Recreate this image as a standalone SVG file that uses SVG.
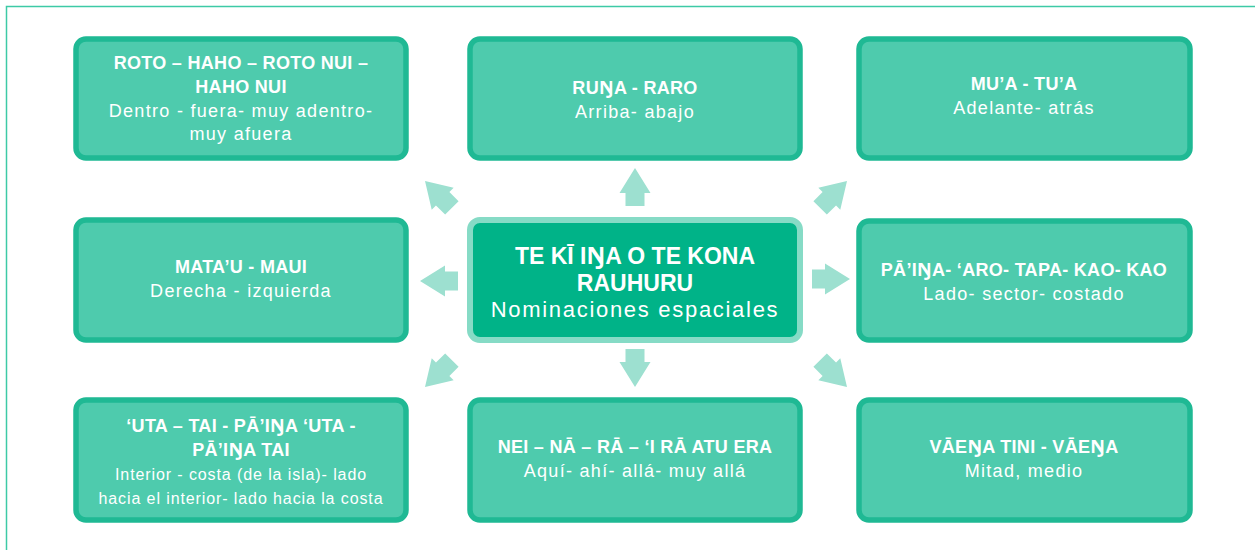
<svg xmlns="http://www.w3.org/2000/svg" width="1255" height="550" viewBox="0 0 1255 550">
  <style>
    .frame { fill: none; stroke: #3dcaa6; stroke-width: 1.5; }
    .box { fill: #4ecbad; stroke: #1fb994; stroke-width: 5.5; }
    .hub { fill: #00b388; stroke: #86dbc6; stroke-width: 6; }
    .arrow { fill: #9de0d0; }
    text { font-family: "Liberation Sans", Arial, sans-serif; fill: #ffffff; text-anchor: middle; }
    .eng { font-family: "Noto Sans", "DejaVu Sans", sans-serif; }
    .t { font-weight: bold; font-size: 18px; letter-spacing: 0.3px; }
    .d { font-size: 18px; letter-spacing: 1.3px; }
    .ds { font-size: 16px; letter-spacing: 0.9px; }
    .ht { font-weight: bold; font-size: 23px; }
    .hd { font-size: 22px; letter-spacing: 1.7px; }
  </style>
  <defs>
    <!-- block arrow pointing up, tip at the origin -->
    <polygon id="arr" class="arrow" points="0,0 15.5,25 9.5,25 9.5,38 -9.5,38 -9.5,25 -15.5,25"/>
  </defs>

  <path class="frame" d="M6.5,550 V6.5 H1255"/>

  <g id="connectors">
    <use href="#arr" transform="translate(635,168)"/>
    <use href="#arr" transform="translate(635,387) rotate(180)"/>
    <use href="#arr" transform="translate(420,281) rotate(-90)"/>
    <use href="#arr" transform="translate(850,279) rotate(90)"/>
    <use href="#arr" transform="translate(425,181) rotate(-45)"/>
    <use href="#arr" transform="translate(847,181) rotate(45)"/>
    <use href="#arr" transform="translate(425,387) rotate(-135)"/>
    <use href="#arr" transform="translate(847,387) rotate(135)"/>
  </g>

  <g id="hub">
    <rect class="hub" x="470" y="220" width="330" height="120" rx="10"/>
    <text class="ht" x="635" y="264">TE KĪ I<tspan class="eng">Ŋ</tspan>A O TE KONA</text>
    <text class="ht" x="635" y="291">RAUHURU</text>
    <text class="hd" x="635" y="317">Nominaciones espaciales</text>
  </g>

  <g id="roto-haho">
    <rect class="box" x="76" y="39" width="330" height="119" rx="10"/>
    <text class="t" x="241" y="69">ROTO – HAHO – ROTO NUI –</text>
    <text class="t" x="241" y="93">HAHO NUI</text>
    <text class="d" x="241" y="117">Dentro - fuera- muy adentro-</text>
    <text class="d" x="241" y="140">muy afuera</text>
  </g>

  <g id="runa-raro">
    <rect class="box" x="470" y="39" width="330" height="119" rx="10"/>
    <text class="t" x="635" y="94">RU<tspan class="eng">Ŋ</tspan>A - RARO</text>
    <text class="d" x="635" y="118">Arriba- abajo</text>
  </g>

  <g id="mua-tua">
    <rect class="box" x="859" y="39" width="331" height="119" rx="10"/>
    <text class="t" x="1024" y="90">MU’A - TU’A</text>
    <text class="d" x="1024" y="114">Adelante- atrás</text>
  </g>

  <g id="matau-maui">
    <rect class="box" x="76" y="220" width="330" height="120" rx="10"/>
    <text class="t" x="241" y="273">MATA’U - MAUI</text>
    <text class="d" x="241" y="297">Derecha - izquierda</text>
  </g>

  <g id="paina-aro">
    <rect class="box" x="859" y="221" width="331" height="119" rx="10"/>
    <text class="t" x="1024" y="276">PĀ’I<tspan class="eng">Ŋ</tspan>A- ‘ARO- TAPA- KAO- KAO</text>
    <text class="d" x="1024" y="300">Lado- sector- costado</text>
  </g>

  <g id="uta-tai">
    <rect class="box" x="76" y="400" width="330" height="120" rx="10"/>
    <text class="t" x="241" y="432">‘UTA – TAI - PĀ’I<tspan class="eng">Ŋ</tspan>A ‘UTA -</text>
    <text class="t" x="241" y="456">PĀ’I<tspan class="eng">Ŋ</tspan>A TAI</text>
    <text class="ds" x="241" y="480">Interior - costa (de la isla)- lado</text>
    <text class="ds" x="241" y="504">hacia el interior- lado hacia la costa</text>
  </g>

  <g id="nei-na-ra">
    <rect class="box" x="470" y="400" width="330" height="120" rx="10"/>
    <text class="t" x="635" y="453">NEI – NĀ – RĀ – ‘I RĀ ATU ERA</text>
    <text class="d" x="635" y="477">Aquí- ahí- allá- muy allá</text>
  </g>

  <g id="vaena-tini">
    <rect class="box" x="859" y="400" width="331" height="120" rx="10"/>
    <text class="t" x="1024" y="453">VĀE<tspan class="eng">Ŋ</tspan>A TINI - VĀE<tspan class="eng">Ŋ</tspan>A</text>
    <text class="d" x="1024" y="477">Mitad, medio</text>
  </g>
</svg>
